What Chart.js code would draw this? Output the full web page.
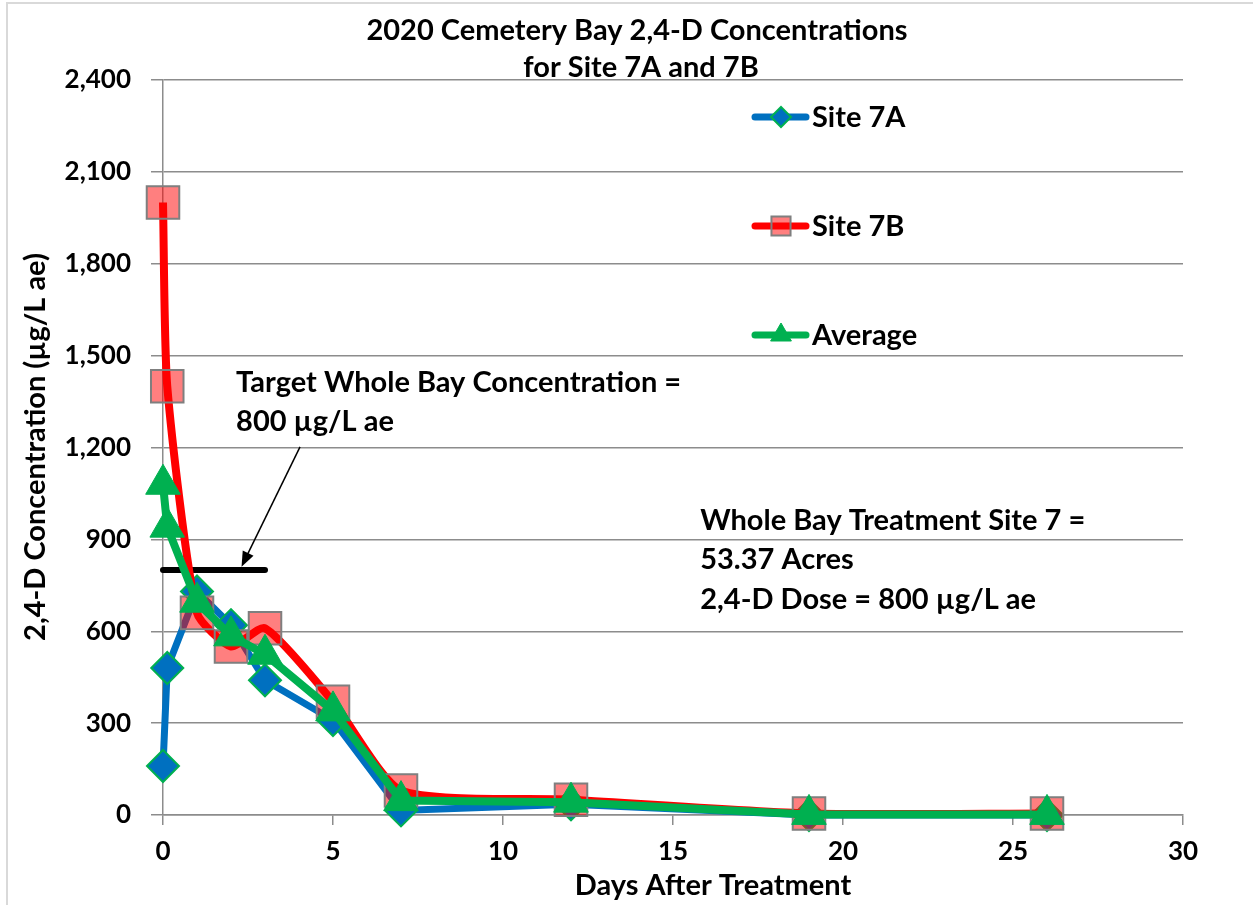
<!DOCTYPE html>
<html>
<head>
<meta charset="utf-8">
<script src="https://cdn.jsdelivr.net/npm/chart.js@4.4.1/dist/chart.umd.min.js"></script>
<style>
  html, body { margin: 0; padding: 0; background: #fff; }
  #wrap { width: 1253px; height: 905px; position: relative; }
</style>
</head>
<body>
<div id="wrap"><canvas id="myLineChart"></canvas></div>
<script>
// values
const days = [0, 0.125, 1, 2, 3, 5, 7, 12, 19, 26];
const site7A = [160, 480, 730, 620, 440, 310, 15, 35, 0, 0];
const site7B = [2000, 1400, 660, 550, 610, 370, 80, 50, 5, 5];
const average = [1080, 940, 695, 585, 525, 340, 47, 42, 2, 2];
const targetDays = [0, 3];
const targetLevel = [800, 800];
const xTicks = [0, 5, 10, 15, 20, 25, 30];
const yTicks = [0, 300, 600, 900, 1200, 1500, 1800, 2100, 2400];

const titleLines = ["2020 Cemetery Bay 2,4-D Concentrations", "for Site 7A and 7B"];
const targetNote = ["Target Whole Bay Concentration =", "800 \u00b5g/L ae"];
const siteNote = ["Whole Bay Treatment Site 7 =", "53.37 Acres", "2,4-D Dose = 800 \u00b5g/L ae"];

const FONT = "Lato";
const BIG = 'bold 29px ' + FONT;

function toPoints(xs, ys) {
  return xs.map(function (x, i) { return { x: x, y: ys[i] }; });
}

function number_format(v) {
  return Number(v).toLocaleString('en-US');
}

const decor = {
  id: 'decor',
  beforeDraw: function (chart) {
    const ctx = chart.ctx;
    ctx.save();
    ctx.strokeStyle = '#d9d9d9';
    ctx.lineWidth = 2;
    ctx.beginPath();
    ctx.moveTo(7, 1300);
    ctx.lineTo(7, 3);
    ctx.lineTo(1300, 3);
    ctx.stroke();
    ctx.restore();
  },
  afterDraw: function (chart) {
    const ctx = chart.ctx;
    const xs = chart.scales.x, ys = chart.scales.y;
    ctx.save();
    ctx.fillStyle = '#000';
    ctx.textBaseline = 'middle';

    // title
    ctx.font = BIG;
    ctx.textAlign = 'center';
    ctx.fillText(titleLines[0], 637, 31);
    ctx.fillText(titleLines[1], 641, 68);

    // axis titles
    ctx.fillText("Days After Treatment", 713, 886);
    ctx.save();
    ctx.translate(36, 447);
    ctx.rotate(-Math.PI / 2);
    ctx.fillText("2,4-D Concentration (\u00b5g/L ae)", 0, 0);
    ctx.restore();

    // notes
    ctx.textAlign = 'left';
    const tx = xs.getPixelForValue(2.15);
    ctx.fillText(targetNote[0], tx, ys.getPixelForValue(1411));
    ctx.fillText(targetNote[1], tx, ys.getPixelForValue(1283));
    const sx = xs.getPixelForValue(15.8);
    ctx.fillText(siteNote[0], sx, ys.getPixelForValue(960));
    ctx.fillText(siteNote[1], sx, ys.getPixelForValue(833));
    ctx.fillText(siteNote[2], sx, ys.getPixelForValue(702));

    // arrow to the target line
    const x0 = xs.getPixelForValue(4.03), y0 = ys.getPixelForValue(1202);
    const x1 = xs.getPixelForValue(2.31), y1 = ys.getPixelForValue(811);
    const ang = Math.atan2(y1 - y0, x1 - x0);
    ctx.strokeStyle = '#000';
    ctx.lineWidth = 1.5;
    ctx.beginPath();
    ctx.moveTo(x0, y0);
    ctx.lineTo(x1 - Math.cos(ang) * 10, y1 - Math.sin(ang) * 10);
    ctx.stroke();
    ctx.beginPath();
    ctx.moveTo(x1, y1);
    ctx.lineTo(x1 - Math.cos(ang) * 15 + Math.sin(ang) * 6, y1 - Math.sin(ang) * 15 - Math.cos(ang) * 6);
    ctx.lineTo(x1 - Math.cos(ang) * 15 - Math.sin(ang) * 6, y1 - Math.sin(ang) * 15 + Math.cos(ang) * 6);
    ctx.closePath();
    ctx.fill();

    // legend
    const legendRows = [
      { ds: 0, y: 117, r: 10 },
      { ds: 1, y: 226, r: 13.5 },
      { ds: 2, y: 335, r: 12 }
    ];
    legendRows.forEach(function (row) {
      const d = chart.data.datasets[row.ds];
      ctx.strokeStyle = d.borderColor;
      ctx.lineWidth = 7;
      ctx.lineCap = 'round';
      ctx.beginPath();
      ctx.moveTo(755, row.y);
      ctx.lineTo(806, row.y);
      ctx.stroke();
      ctx.lineCap = 'butt';
      ctx.fillStyle = d.pointBackgroundColor;
      ctx.strokeStyle = d.pointBorderColor;
      ctx.lineWidth = d.pointBorderWidth;
      Chart.helpers.drawPoint(ctx, { pointStyle: d.pointStyle, radius: row.r, borderWidth: d.pointBorderWidth, rotation: 0 }, 781, row.y);
      ctx.fillStyle = '#000';
      ctx.font = BIG;
      ctx.fillText(d.label, 812, row.y + 1);
    });
    ctx.restore();
  }
};

Chart.defaults.font.family = FONT;
Chart.defaults.font.weight = 'bold';
Chart.defaults.color = '#000';

var ctx = document.getElementById("myLineChart").getContext('2d');
var myLineChart = new Chart(ctx, {
  type: 'line',
  data: {
    datasets: [{
      label: "Site 7A",
      data: toPoints(days, site7A),
      borderColor: "#0070C0",
      borderWidth: 7,
      pointStyle: 'rectRot',
      pointRadius: 16,
      pointBackgroundColor: "#0070C0",
      pointBorderColor: "#00B050",
      pointBorderWidth: 2,
      order: 3,
      clip: false
    }, {
      label: "Site 7B",
      data: toPoints(days, site7B),
      borderColor: "#FF0000",
      borderWidth: 8,
      tension: 0.2,
      pointStyle: 'rect',
      pointRadius: 23,
      pointBackgroundColor: "rgba(255,0,0,0.5)",
      pointBorderColor: "#7F7F7F",
      pointBorderWidth: 2,
      order: 2,
      clip: false
    }, {
      label: "Average",
      data: toPoints(days, average),
      borderColor: "#00B050",
      borderWidth: 8,
      pointStyle: 'triangle',
      pointRadius: 20,
      pointBackgroundColor: "#00B050",
      pointBorderColor: "#00B050",
      pointBorderWidth: 1,
      order: 1,
      clip: false
    }, {
      label: "Target",
      data: toPoints(targetDays, targetLevel),
      borderColor: "#000",
      borderWidth: 6,
      borderCapStyle: 'round',
      pointRadius: 0,
      order: 4,
      clip: false
    }]
  },
  options: {
    responsive: true,
    maintainAspectRatio: false,
    animation: false,
    devicePixelRatio: 1,
    layout: {
      padding: { left: 0, right: 70, top: 80, bottom: 0 }
    },
    scales: {
      x: {
        type: 'linear',
        min: 0,
        max: 30,
        afterFit: function (s) { s.height = 90; },
        afterBuildTicks: function (s) { s.ticks = xTicks.map(function (v) { return { value: v }; }); },
        grid: {
          drawOnChartArea: false,
          drawTicks: true,
          tickLength: 10,
          color: "#8c8c8c",
          lineWidth: 1.5
        },
        border: { display: true, color: "#8c8c8c", width: 1.5 },
        ticks: {
          padding: 11,
          font: { size: 26, weight: 'bold' },
          maxRotation: 0
        }
      },
      y: {
        min: 0,
        max: 2400,
        afterFit: function (s) { s.width = 163; },
        afterBuildTicks: function (s) { s.ticks = yTicks.map(function (v) { return { value: v }; }); },
        grid: {
          color: "#8c8c8c",
          lineWidth: 1.5,
          tickLength: 12
        },
        border: { display: true, color: "#8c8c8c", width: 1.5 },
        ticks: {
          padding: 20,
          font: { size: 26, weight: 'bold' },
          callback: function (value) { return number_format(value); }
        }
      }
    },
    plugins: {
      legend: { display: false },
      title: { display: false },
      tooltip: { enabled: false }
    }
  },
  plugins: [decor]
});
</script>
</body>
</html>
